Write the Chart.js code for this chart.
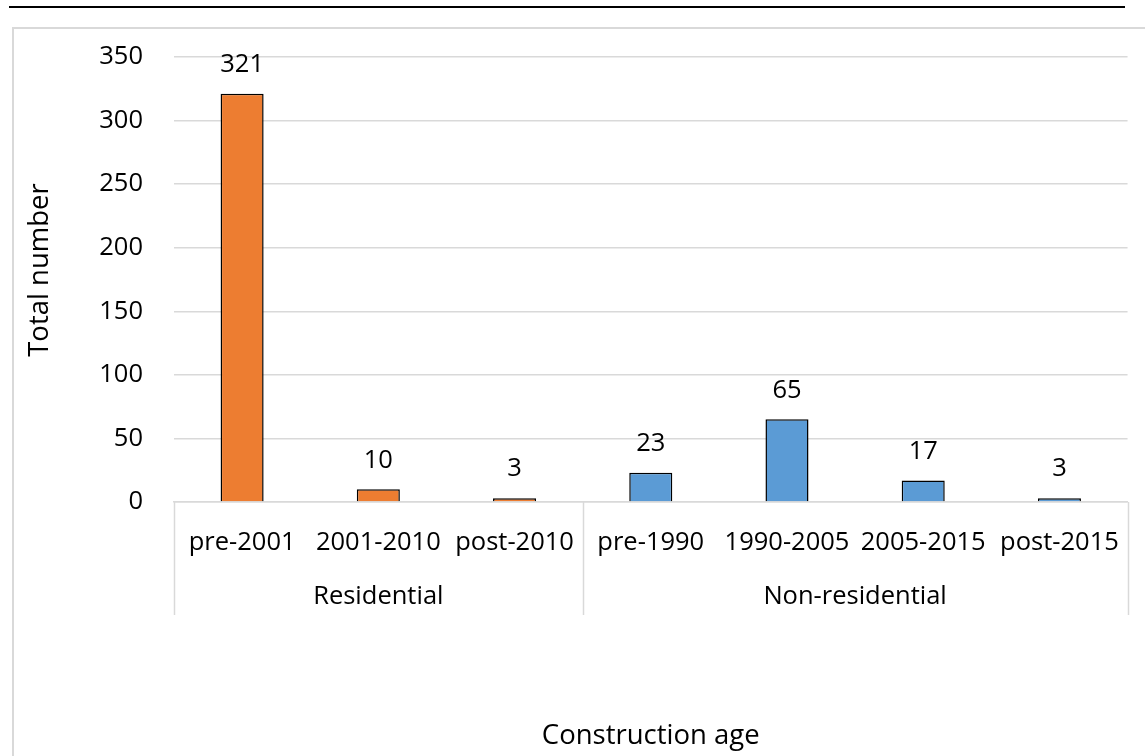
<!DOCTYPE html>
<html>
<head>
<meta charset="utf-8">
<script src="https://cdn.jsdelivr.net/npm/chart.js@4.4.0/dist/chart.umd.min.js"></script>
<style>
  html, body { margin: 0; padding: 0; background: #fff; }
  #wrap { width: 1145px; height: 756px; position: relative; }
</style>
</head>
<body>
<div id="wrap"><canvas id="ageChart"></canvas></div>
<script>
const categories = ['pre-2001', '2001-2010', 'post-2010', 'pre-1990', '1990-2005', '2005-2015', 'post-2015'];
const groups = ['Residential', 'Non-residential'];
const groupSizes = [3, 4];
const groupColors = ['#ED7D31', '#5B9BD5'];
const totals = [321, 10, 3, 23, 65, 17, 3];
const yMax = 350;
const yStep = 50;
const yTitle = 'Total number';
const xTitle = 'Construction age';

const FONT = "'Open Sans', sans-serif";
const GRID = '#d9d9d9';

// one colour per bar, taken from the group it belongs to
const barColors = [];
groupSizes.forEach((n, g) => {
    for (let i = 0; i < n; i++) barColors.push(groupColors[g]);
});

// frame, top rule, value labels, group labels and separators
const decorations = {
    id: 'decorations',
    beforeDraw(chart) {
        const ctx = chart.ctx;
        ctx.save();
        ctx.fillStyle = '#000';
        ctx.fillRect(9, 6, 1116, 2);
        ctx.strokeStyle = GRID;
        ctx.lineWidth = 2;
        ctx.beginPath();
        ctx.moveTo(1145, 28);
        ctx.lineTo(13, 28);
        ctx.lineTo(13, 756);
        ctx.stroke();
        ctx.restore();
    },
    afterDatasetsDraw(chart) {
        const ctx = chart.ctx;
        const meta = chart.getDatasetMeta(0);
        ctx.save();
        ctx.font = '25.5px ' + FONT;
        ctx.fillStyle = '#000';
        ctx.textAlign = 'center';
        ctx.textBaseline = 'middle';
        meta.data.forEach((bar, i) => {
            ctx.fillText(String(totals[i]), bar.x, bar.y - 29);
        });
        ctx.restore();
    },
    afterDraw(chart) {
        const ctx = chart.ctx;
        const x = chart.scales.x;
        const area = chart.chartArea;
        const half = (x.getPixelForValue(1) - x.getPixelForValue(0)) / 2;
        ctx.save();
        ctx.strokeStyle = GRID;
        ctx.lineWidth = 1.5;
        ctx.font = '25.5px ' + FONT;
        ctx.fillStyle = '#000';
        ctx.textAlign = 'center';
        ctx.textBaseline = 'middle';
        let start = 0;
        const edges = [x.getPixelForValue(0) - half];
        groupSizes.forEach((n, g) => {
            const left = x.getPixelForValue(start) - half;
            const right = x.getPixelForValue(start + n - 1) + half;
            edges.push(right);
            ctx.fillText(groups[g], (left + right) / 2, 597);
            start += n;
        });
        edges.forEach(px => {
            ctx.beginPath();
            ctx.moveTo(Math.round(px) + 0.5, area.bottom);
            ctx.lineTo(Math.round(px) + 0.5, 615);
            ctx.stroke();
        });

        // vertical axis title, centred a little above the plot middle
        ctx.font = '27.5px ' + FONT;
        ctx.translate(40, 270);
        ctx.rotate(-Math.PI / 2);
        ctx.fillText(yTitle, 0, 0);
        ctx.restore();
    }
};

new Chart(document.getElementById('ageChart'), {
    type: 'bar',
    data: {
        labels: categories,
        datasets: [{
            data: totals,
            backgroundColor: barColors,
            borderColor: '#000',
            borderWidth: 1.5,
            barPercentage: 0.316,
            categoryPercentage: 1
        }]
    },
    options: {
        responsive: true,
        maintainAspectRatio: false,
        animation: false,
        layout: {
            padding: { top: 57, right: 17, bottom: 0, left: 0 }
        },
        plugins: {
            legend: { display: false },
            tooltip: { enabled: false }
        },
        scales: {
            x: {
                grid: { display: false, drawTicks: false },
                border: { display: true, color: GRID, width: 1.5 },
                ticks: {
                    color: '#000',
                    font: { family: FONT, size: 25.5 },
                    padding: 25,
                    maxRotation: 0,
                    autoSkip: false
                },
                title: {
                    display: true,
                    text: xTitle,
                    color: '#000',
                    font: { family: FONT, size: 27.5 },
                    padding: { top: 0, bottom: 3 }
                },
                afterFit(scale) { scale.height = 254; }
            },
            y: {
                min: 0,
                max: yMax,
                grid: { color: GRID, lineWidth: 1.5, drawTicks: false },
                border: { display: false },
                ticks: {
                    stepSize: yStep,
                    color: '#000',
                    font: { family: FONT, size: 25.5 },
                    padding: 31
                },
                afterFit(scale) { scale.width = 174; }
            }
        }
    },
    plugins: [decorations]
});
</script>
</body>
</html>
